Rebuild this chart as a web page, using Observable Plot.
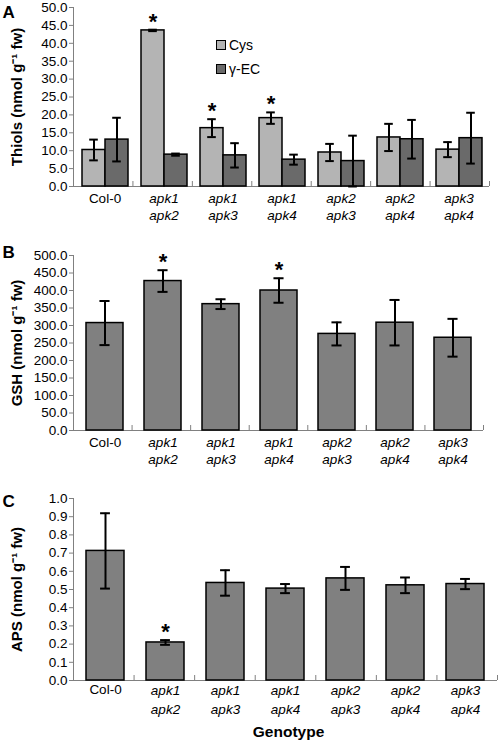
<!DOCTYPE html>
<html><head><meta charset="utf-8">
<script src="https://cdn.jsdelivr.net/npm/d3@7"></script>
<script src="https://cdn.jsdelivr.net/npm/@observablehq/plot@0.6"></script>
<style>
body{margin:0;background:#fff;}
#chart{position:relative;width:498px;height:748px;font-family:"Liberation Sans",Arial,sans-serif;overflow:hidden;}
.panel{position:absolute;left:0;width:498px;}
.panel svg{position:absolute;left:0;top:0;overflow:visible;font-family:"Liberation Sans",Arial,sans-serif;}
.legend{position:absolute;font-size:14px;color:#000;}
.legend div{display:flex;align-items:center;height:24px;}
.legend span.sw{display:inline-block;width:8px;height:8px;border:1px solid #000;margin-right:3px;}
</style></head><body><div id="chart"></div>
<script>
// ---- data ----
const genotypes = ["Col-0","apk1\napk2","apk1\napk3","apk1\napk4","apk2\napk3","apk2\napk4","apk3\napk4"];
const series = ["Cys","γ-EC"];
const cysMean = [10.2, 43.6, 16.3, 19.1, 9.5, 13.7, 10.3];
const cysErr  = [2.9, 0.2, 2.5, 1.6, 2.4, 3.8, 2.1];
const ecMean  = [13.1, 8.9, 8.7, 7.5, 7.1, 13.2, 13.5];
const ecErr   = [6.1, 0.3, 3.4, 1.4, 7.1, 5.4, 7.1];
const gshMean = [307, 427, 361, 400, 276, 308, 265];
const gshErr  = [63, 31, 14, 35, 33, 65, 54];
const apsMean = [0.712, 0.209, 0.536, 0.505, 0.561, 0.523, 0.530];
const apsErr  = [0.207, 0.013, 0.070, 0.025, 0.063, 0.043, 0.028];
const sigCys = ["apk1\napk2","apk1\napk3","apk1\napk4"];
const sigGSH = ["apk1\napk2","apk1\napk4"];
const sigAPS = ["apk1\napk2"];
const ticksA = d3.range(0, 50.01, 5);
const ticksB = d3.range(0, 500.01, 50);
const ticksC = d3.range(0, 10.01, 1).map(d => d / 10);

// ---- styling ----
const W = 498, ML = 73;
const FONT = "Liberation Sans, Arial, sans-serif";
const cols = {"Cys": "#b4b4b4", "γ-EC": "#6a6a6a"};
const single = "#808080";
const fmt = d3.format(".1f");
const chart = document.getElementById("chart");
const italicG = genotypes.filter(g => g !== "Col-0");
const baseStyle = {background: "transparent", fontFamily: FONT, fontSize: "13.5px", color: "#000", overflow: "visible"};

function panel(top, height) {
  const d = document.createElement("div");
  d.className = "panel"; d.style.top = top + "px"; d.style.height = height + "px";
  chart.appendChild(d); return d;
}

function axesPlot({height, mt, mb, mr, domain, ticks, title, letter, letterDy, extra = []}) {
  return Plot.plot({
    width: W, height, marginLeft: ML, marginRight: mr, marginTop: mt, marginBottom: mb,
    style: baseStyle,
    x: {type: "linear", domain: [0, genotypes.length], axis: null},
    y: {domain, axis: null},
    marks: [
      Plot.ruleY([0], {stroke: "#808080"}),
      Plot.ruleX([0], {stroke: "#808080"}),
      Plot.axisX({ticks: d3.range(genotypes.length + 1), tickSize: -5, tickFormat: () => "", stroke: "#808080", label: null}),
      Plot.axisY({ticks, tickFormat: fmt, tickSize: 4, tickPadding: 2, stroke: "#808080", fontSize: 13.5, label: null}),
      Plot.text([title], {frameAnchor: "left", textAnchor: "middle", lineAnchor: "middle", rotate: -90, dx: -56.5, fontWeight: "bold", fontSize: 15}),
      Plot.text([letter], {frameAnchor: "top-left", textAnchor: "start", lineAnchor: "top", dx: -71, dy: letterDy, fontWeight: "bold", fontSize: 17}),
      ...extra
    ]
  });
}

// ---------- Panel A ----------
{
  const H = 225, mt = 7, mb = 39, mr = 9;
  const p = panel(0, H);
  p.appendChild(axesPlot({height: H, mt, mb, mr, domain: [0, 50], ticks: ticksA,
    title: "Thiols (nmol g⁻¹ fw)", letter: "A", letterDy: -2}));
  const rows = genotypes.flatMap((g, i) => [
    {g, s: "Cys", v: cysMean[i], e: cysErr[i]},
    {g, s: "γ-EC", v: ecMean[i], e: ecErr[i]}
  ]);
  const step = (W - ML - mr) / genotypes.length;
  const po = 0.27, bw = step / (2 + 2 * po), cap = 9, inset = (bw - cap) / 2;
  const data = Plot.plot({
    width: W, height: H, marginLeft: ML, marginRight: mr, marginTop: mt, marginBottom: mb,
    style: baseStyle,
    fx: {domain: genotypes, paddingInner: 0, paddingOuter: 0, axis: null, label: null},
    x: {domain: series, paddingInner: 0, paddingOuter: po, axis: null, label: null},
    y: {domain: [0, 50], axis: null},
    color: {domain: series, range: series.map(s => cols[s])},
    marks: [
      Plot.barY(rows, {fx: "g", x: "s", y: "v", fill: "s", stroke: "#000", strokeWidth: 1.5}),
      Plot.ruleX(rows, {fx: "g", x: "s", y1: d => Math.max(0, d.v - d.e), y2: d => d.v + d.e, stroke: "#000", strokeWidth: 2}),
      Plot.tickY(rows, {fx: "g", x: "s", y: d => d.v + d.e, stroke: "#000", strokeWidth: 2, insetLeft: inset, insetRight: inset}),
      Plot.tickY(rows, {fx: "g", x: "s", y: d => Math.max(0, d.v - d.e), stroke: "#000", strokeWidth: 2, insetLeft: inset, insetRight: inset}),
      Plot.text(rows.filter(d => d.s === "Cys" && sigCys.includes(d.g)), {fx: "g", x: "s", y: d => d.v + d.e, text: () => "*", dy: -8, fontSize: 22, fontWeight: "bold"}),
      Plot.axisFx({anchor: "bottom", ticks: ["Col-0"], tickSize: 0, tickPadding: 6.6, fontSize: 13.5, label: null}),
      Plot.axisFx({anchor: "bottom", ticks: italicG, tickSize: 0, tickPadding: 4.1, fontSize: 13.5, lineHeight: 1.26, fontStyle: "italic", label: null})
    ]
  });
  p.appendChild(data);
  const lg = document.createElement("div");
  lg.className = "legend"; lg.style.left = "216px"; lg.style.top = "33px";
  lg.innerHTML = series.map(s => `<div><span class="sw" style="background:${cols[s]}"></span>${s}</div>`).join("");
  p.appendChild(lg);
}

// ---------- single-series panels ----------
function singlePanel({top, H, mt, mb, mr, domain, ticks, mean, err, sig, title, letter, letterDy, padCol, padIt, lh, extra = []}) {
  const p = panel(top, H);
  p.appendChild(axesPlot({height: H, mt, mb, mr, domain, ticks, title, letter, letterDy, extra}));
  const rows = genotypes.map((g, i) => ({g, v: mean[i], e: err[i]}));
  const pad = 0.37;
  const step = (W - ML - mr) / genotypes.length, bw = step * (1 - pad), cap = 10, inset = (bw - cap) / 2;
  const data = Plot.plot({
    width: W, height: H, marginLeft: ML, marginRight: mr, marginTop: mt, marginBottom: mb,
    style: baseStyle,
    x: {domain: genotypes, paddingInner: pad, paddingOuter: pad / 2, axis: null, label: null},
    y: {domain, axis: null},
    marks: [
      Plot.barY(rows, {x: "g", y: "v", fill: single, stroke: "#000", strokeWidth: 1.5}),
      Plot.ruleX(rows, {x: "g", y1: d => d.v - d.e, y2: d => d.v + d.e, stroke: "#000", strokeWidth: 2}),
      Plot.tickY(rows, {x: "g", y: d => d.v + d.e, stroke: "#000", strokeWidth: 2, insetLeft: inset, insetRight: inset}),
      Plot.tickY(rows, {x: "g", y: d => d.v - d.e, stroke: "#000", strokeWidth: 2, insetLeft: inset, insetRight: inset}),
      Plot.text(rows.filter(d => sig.includes(d.g)), {x: "g", y: d => d.v + d.e, text: () => "*", dy: -8, fontSize: 22, fontWeight: "bold"}),
      Plot.axisX({ticks: ["Col-0"], tickSize: 0, tickPadding: padCol, fontSize: 13.5, label: null}),
      Plot.axisX({ticks: italicG, tickSize: 0, tickPadding: padIt, fontSize: 13.5, lineHeight: lh, fontStyle: "italic", label: null})
    ]
  });
  p.appendChild(data);
}

singlePanel({top: 225, H: 250, mt: 30, mb: 45, mr: 15, domain: [0, 500], ticks: ticksB,
  mean: gshMean, err: gshErr, sig: sigGSH, title: "GSH (nmol g⁻¹ fw)", letter: "B", letterDy: -10,
  padCol: 7, padIt: 4.8, lh: 1.26});

singlePanel({top: 475, H: 273, mt: 23, mb: 68, mr: 1, domain: [0, 1], ticks: ticksC,
  mean: apsMean, err: apsErr, sig: sigAPS, title: "APS (nmol g⁻¹ fw)", letter: "C", letterDy: -3.5,
  padCol: 4.3, padIt: 1.7, lh: 1.37,
  extra: [Plot.text(["Genotype"], {frameAnchor: "bottom", dx: 3, dy: 56, fontWeight: "bold", fontSize: 15.5})]});
</script></body></html>
